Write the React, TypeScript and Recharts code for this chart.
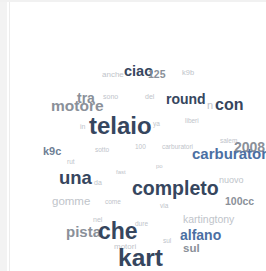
import React from "react";
import { ScatterChart, Scatter, XAxis, YAxis } from "recharts";

// Word cloud data: word, left x, baseline y, font size, weight class, colour class
const words = [
  "anche", "ciao", "125", "k9b", "tra", "sono", "del", "round", "n", "con",
  "motore", "telaio", "in", "ya", "liberi", "k9c", "rut", "sotto", "100", "carburatori",
  "salem", "2008", "carburatore", "po", "fast", "una", "da", "completo", "nuovo", "100cc",
  "gomme", "come", "via", "kartingtony", "nel", "dure", "pista", "che", "sul", "alfano",
  "sul", "motori", "kart",
];
const xs = [
  102, 124, 148, 182, 77, 103, 145, 166, 207, 215,
  51, 89, 80, 153, 185, 43, 67, 95, 135, 162,
  220, 234, 192, 156, 116, 59, 94, 132, 219, 225,
  52, 105, 160, 183, 93, 135, 66, 98, 163, 180,
  183, 114, 118,
];
const ys = [
  77, 76, 78, 75, 103, 99, 99, 104, 109, 110,
  111, 134, 129, 126, 123, 155, 164, 152, 149, 149,
  143, 152, 159, 168, 174, 184, 185, 195, 183, 205,
  205, 204, 208, 223, 222, 226, 237, 239, 243, 240,
  252, 249, 266,
];
const sizes = [
  8, 14.5, 10.5, 7.5, 14, 7, 7, 14, 11, 16,
  15.5, 24, 7, 6.5, 6.5, 11, 6.5, 6.5, 6.5, 6.5,
  6.5, 14, 15, 6, 6, 18.5, 7, 19.5, 9, 10.5,
  11.5, 6.5, 6.5, 10.5, 7, 6.5, 15, 23, 6.5, 14,
  11.5, 8, 24.5,
];
const bold = [
  0, 1, 1, 0, 1, 0, 0, 1, 0, 1,
  1, 1, 0, 0, 0, 1, 0, 0, 0, 0,
  0, 1, 1, 0, 0, 1, 0, 1, 0, 1,
  0, 0, 0, 0, 0, 0, 1, 1, 0, 1,
  1, 0, 1,
];
// 0 dark, 1 mid gray, 2 light gray, 3 blue, 4 slate
const tone = [
  2, 0, 1, 2, 1, 2, 2, 0, 2, 0,
  1, 0, 2, 2, 2, 4, 2, 2, 2, 2,
  2, 1, 3, 2, 2, 0, 2, 0, 2, 1,
  2, 2, 2, 2, 2, 2, 1, 0, 2, 3,
  1, 2, 0,
];
const palette = ["#36465e", "#8a9099", "#c0c4ca", "#4b6fa3", "#6f7f95"];

const data = words.map((w, i) => ({
  x: xs[i],
  y: ys[i],
  word: w,
  size: sizes[i],
  bold: bold[i],
  tone: tone[i],
}));

const WordShape = (props: any) => {
  const { cx, cy, payload } = props;
  return (
    <text
      x={cx}
      y={cy}
      textAnchor="start"
      fontFamily="'Liberation Sans', Arial, sans-serif"
      fontSize={payload.size}
      fontWeight={payload.bold ? 700 : 400}
      fill={palette[payload.tone]}
    >
      {payload.word}
    </text>
  );
};

export default function App() {
  return (
    <div style={{ position: "absolute", left: 0, top: 0, width: 266, height: 271, background: "#fff", overflow: "hidden" }}>
      <div style={{ position: "absolute", left: 0, top: 0, width: 7, height: 271, background: "#f3f3f3" }} />
      <div style={{ position: "absolute", left: 9, top: 0, width: 1, height: 271, background: "#ececec" }} />
      <div style={{ position: "absolute", left: 0, top: 0, width: 266, height: 2, background: "#f1f1f1" }} />
      <ScatterChart width={266} height={271} margin={{ top: 0, right: 0, bottom: 0, left: 0 }} style={{ position: "absolute", left: 0, top: 0 }}>
        <XAxis type="number" dataKey="x" domain={[0, 266]} hide />
        <YAxis type="number" dataKey="y" domain={[0, 271]} reversed hide />
        <Scatter data={data} shape={WordShape} isAnimationActive={false} />
      </ScatterChart>
    </div>
  );
}
